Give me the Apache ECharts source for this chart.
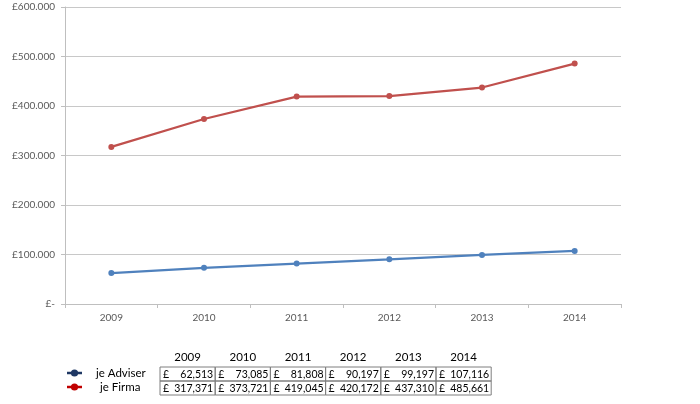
<!DOCTYPE html>
<html>
<head>
<meta charset="utf-8">
<script src="https://cdn.jsdelivr.net/npm/echarts@6/dist/echarts.min.js"></script>
<style>html,body{margin:0;padding:0;background:#fff;}#c{width:700px;height:404px;}</style>
</head>
<body>
<div id="c"></div>
<script>
const years = ['2009', '2010', '2011', '2012', '2013', '2014'];
const adviser = [62513, 73085, 81808, 90197, 99197, 107116];
const firma = [317371, 373721, 419045, 420172, 437310, 485661];
const seriesNames = ['je Adviser', 'je Firma'];

const FONT = 'Lato, "Open Sans", sans-serif';
const chart = echarts.init(document.getElementById('c'), null, {renderer: 'canvas'});

// Data table (text built from arrays)
const tblLeft = 160, colW = 55.2, rowTop = 367, rowH = 14;
const graphic = [];
years.forEach((y, i) => {
  graphic.push({type: 'text', x: tblLeft + i * colW + colW / 2, y: 351, style: {text: y, textAlign: 'center', font: '11.5px ' + FONT, fill: '#000'}});
});
[adviser, firma].forEach((arr, r) => {
  arr.forEach((v, i) => {
    const cx = tblLeft + i * colW;
    const cy = rowTop + r * rowH;
    graphic.push({type: 'rect', shape: {x: cx, y: cy, width: colW, height: rowH}, style: {fill: 'none', stroke: '#7f7f7f', lineWidth: 1}});
    graphic.push({type: 'text', x: cx + 3, y: cy + 2, style: {text: '£', textAlign: 'left', font: '10.5px ' + FONT, fill: '#000'}});
    graphic.push({type: 'text', x: cx + colW - 2, y: cy + 2, style: {text: v.toLocaleString('en-US'), textAlign: 'right', font: '10.5px ' + FONT, fill: '#000'}});
  });
});
// legend keys
const keyColors = ['#1F3864', '#C00000'];
seriesNames.forEach((n, r) => {
  const cy = rowTop + r * rowH + 7;
  graphic.push({type: 'line', shape: {x1: 67, y1: cy - 1, x2: 82, y2: cy - 1}, style: {stroke: keyColors[r], lineWidth: 2.5}});
  graphic.push({type: 'circle', shape: {cx: 74.5, cy: cy - 1, r: 3.6}, style: {fill: keyColors[r]}});
  graphic.push({type: 'text', x: r === 0 ? 96 : 100, y: cy - 7, style: {text: n, font: '11.5px ' + FONT, fill: '#000'}});
});

chart.setOption({
  animation: false,
  backgroundColor: '#fff',
  grid: {left: 65, right: 79, top: 7, bottom: 100, containLabel: false},
  xAxis: {
    type: 'category',
    data: years,
    boundaryGap: true,
    axisLine: {lineStyle: {color: '#BFBFBF', width: 1}},
    axisTick: {show: true, length: 4, inside: false, lineStyle: {color: '#BFBFBF'}},
    axisLabel: {color: '#595959', fontFamily: FONT, fontSize: 10, margin: 9}
  },
  yAxis: {
    type: 'value',
    min: 0, max: 600000, interval: 100000,
    axisLine: {show: true, lineStyle: {color: '#BFBFBF', width: 1}},
    axisTick: {show: true, length: 4, lineStyle: {color: '#BFBFBF'}},
    splitLine: {lineStyle: {color: '#C8C8C8', width: 1}},
    axisLabel: {
      color: '#595959', fontFamily: FONT, fontSize: 10, margin: 10,
      formatter: v => v === 0 ? '£-' : '£' + (v / 1000) + '.000'
    }
  },
  series: [
    {name: seriesNames[0], type: 'line', data: adviser, symbol: 'circle', symbolSize: 6,
     lineStyle: {color: '#4F81BD', width: 2.25}, itemStyle: {color: '#4F81BD'}},
    {name: seriesNames[1], type: 'line', data: firma, symbol: 'circle', symbolSize: 6,
     lineStyle: {color: '#C0504D', width: 2.25}, itemStyle: {color: '#C0504D'}}
  ],
  graphic: graphic
});
</script>
</body>
</html>
